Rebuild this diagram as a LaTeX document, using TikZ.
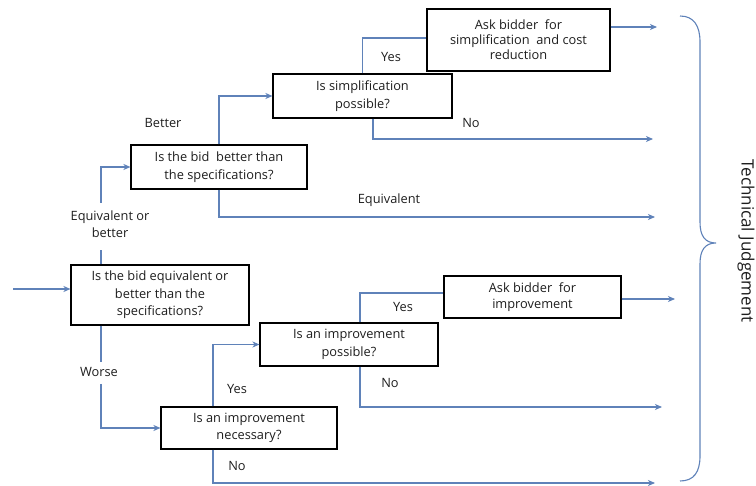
\documentclass[tikz,border=0pt]{standalone}
\usepackage{fontspec}
\setmainfont{Open Sans}
\usetikzlibrary{arrows.meta}
\definecolor{flow}{RGB}{95,130,185}
\definecolor{ink}{RGB}{30,30,30}
\begin{document}
\begin{tikzpicture}[x=1pt,y=-1pt,
  qbox/.style={draw=black,line width=1.1pt,fill=white,inner sep=0pt,
    minimum width=#1,align=center,text=ink,font=\fontsize{12.8}{17.5}\selectfont},
  conn/.style={draw=flow,line width=1.1pt},
  arr/.style={conn,-{Stealth[length=7pt,width=6pt,inset=2pt]}},
  lbl/.style={text=ink,font=\fontsize{12.8}{17}\selectfont,align=center,inner sep=0pt}]
\useasboundingbox (0,0) rectangle (756,486);

% decision and action boxes
\node[qbox=178pt,minimum height=60pt] (A) at (160,295) {Is the bid equivalent or\\better than the\\specifications?};
\node[qbox=176pt,minimum height=44pt] (B) at (219,167) {Is the bid\ \ better than\\the specifications?};
\node[qbox=179pt,minimum height=44pt] (C) at (362.5,96) {Is simplification\\possible?};
\node[qbox=183pt,minimum height=62pt,font=\fontsize{12.8}{15}\selectfont] (D) at (518.5,40) {Ask bidder\ \ for\\simplification\ \ and cost\\reduction};
\node[qbox=176pt,minimum height=42pt] (E) at (249,428) {Is an improvement\\necessary?};
\node[qbox=178pt,minimum height=43pt] (F) at (349,344.5) {Is an improvement\\possible?};
\node[qbox=177pt,minimum height=42pt,font=\fontsize{12.8}{16}\selectfont] (G) at (532.5,297) {Ask bidder\ \ for\\improvement};

% branch labels
\node[lbl] (lBetter) at (163,123) {Better};
\node[lbl] (lYes1) at (391,57) {Yes};
\node[lbl] (lNo1) at (471,123) {No};
\node[lbl] (lEquiv) at (389,200) {Equivalent};
\node[lbl] (lEqOr) at (110,224) {Equivalent or\\better};
\node[lbl] (lWorse) at (99,372) {Worse};
\node[lbl] (lYes2) at (237,389) {Yes};
\node[lbl] (lYes3) at (403,307) {Yes};
\node[lbl] (lNo2) at (390,383) {No};
\node[lbl] (lNo3) at (237,466) {No};

% free ends of the connectors
\coordinate (start) at (13,289);
\coordinate (eqBot) at (101,250);
\coordinate (eqTop) at (101,203);
\coordinate (wTop) at (101,362);
\coordinate (wBot) at (101,384);
\coordinate (out1) at (657,27);
\coordinate (out2) at (653,139);
\coordinate (out3) at (655,217);
\coordinate (out4) at (675,299);
\coordinate (out5) at (662,407);
\coordinate (out6) at (655,483);

% connectors
\draw[arr] (start) -- (start -| A.west);
\draw[conn] (A.north -| eqBot) -- (eqBot);
\draw[arr] (eqTop) |- (B.west);
\draw[arr] (B.north) |- (C.west);
\draw[conn] (C.north) |- ([yshift=2pt]D.west);
\draw[arr] (D.east |- out1) -- (out1);
\draw[arr] ([xshift=10.5pt]C.south) |- (out2);
\draw[arr] (B.south) |- (out3);
\draw[conn] (A.south -| wTop) -- (wTop);
\draw[arr] (wBot) |- (E.west);
\draw[arr] ([xshift=-36pt]E.north) |- (F.west);
\draw[conn] ([xshift=11pt]F.north) |- ([yshift=4pt]G.west);
\draw[arr] (G.east |- out4) -- (out4);
\draw[arr] ([xshift=11pt]F.south) |- (out5);
\draw[arr] ([xshift=-36pt]E.south) |- (out6);

% closing brace gathering all outcomes
\draw[conn] (680,16) .. controls (694,16) and (700,26) .. (700,42)
  -- (700,222) .. controls (700,236) and (705,243) .. (716,243)
  .. controls (705,243) and (700,250) .. (700,264)
  -- (700,456) .. controls (700,472) and (694,481) .. (680,481);
\node[text=ink,font=\fontsize{17}{17}\selectfont,rotate=-90,inner sep=0pt] (tj) at (746,241) {Technical Judgement};
\end{tikzpicture}
\end{document}
